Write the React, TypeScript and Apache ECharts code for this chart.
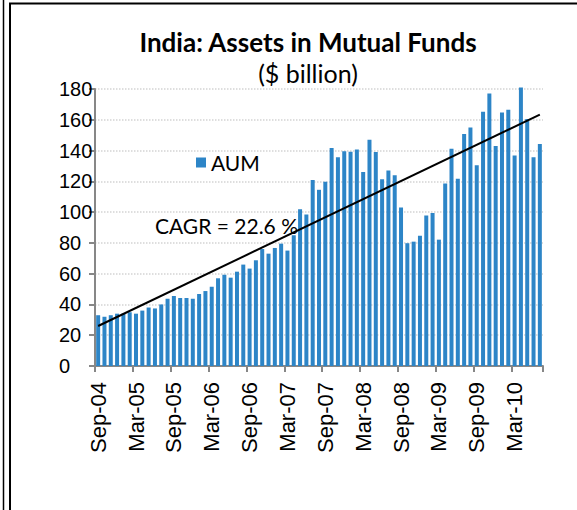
import React, { useEffect, useRef } from "react";
import * as echarts from "echarts";

const categories = [
  "Sep-04", "Oct-04", "Nov-04", "Dec-04", "Jan-05", "Feb-05",
  "Mar-05", "Apr-05", "May-05", "Jun-05", "Jul-05", "Aug-05",
  "Sep-05", "Oct-05", "Nov-05", "Dec-05", "Jan-06", "Feb-06",
  "Mar-06", "Apr-06", "May-06", "Jun-06", "Jul-06", "Aug-06",
  "Sep-06", "Oct-06", "Nov-06", "Dec-06", "Jan-07", "Feb-07",
  "Mar-07", "Apr-07", "May-07", "Jun-07", "Jul-07", "Aug-07",
  "Sep-07", "Oct-07", "Nov-07", "Dec-07", "Jan-08", "Feb-08",
  "Mar-08", "Apr-08", "May-08", "Jun-08", "Jul-08", "Aug-08",
  "Sep-08", "Oct-08", "Nov-08", "Dec-08", "Jan-09", "Feb-09",
  "Mar-09", "Apr-09", "May-09", "Jun-09", "Jul-09", "Aug-09",
  "Sep-09", "Oct-09", "Nov-09", "Dec-09", "Jan-10", "Feb-10",
  "Mar-10", "Apr-10", "May-10", "Jun-10", "Jul-10",
];

const aum = [
  33, 32, 33, 34, 34, 35,
  34, 36, 38, 37.4, 40, 43.7,
  45.5, 44.2, 44.2, 43.7, 46.8, 48.7,
  51.5, 57, 59.3, 57.4, 61.3, 65.9,
  63.3, 68.7, 76, 73, 76.7, 79.5,
  75, 85, 101.9, 98.4, 120.8, 114.5,
  119.7, 141.6, 135.7, 139.6, 139.2, 140.7,
  126, 147, 139, 121.4, 127, 124,
  103, 79.8, 80.8, 84.7, 97.8, 99.5,
  82.1, 118.6, 141.2, 121.6, 150.7, 155,
  130.5, 165.2, 177, 142.9, 164.8, 166.5,
  136.8, 181, 160.5, 135.7, 144.2,
];

// Linear trend line end points (first and last month)
const trendStart = 26;
const trendEnd = 163.3;

const yMin = 0;
const yMax = 180;
const yStep = 20;

const titleText = "India: Assets in Mutual Funds";
const subtitleText = "($ billion)";
const cagrText = "CAGR = 22.6 %";
const seriesName = "AUM";

export default function App() {
  const ref = useRef<HTMLDivElement>(null);

  useEffect(() => {
    if (!ref.current) return;
    const chart = echarts.init(ref.current, null, { renderer: "svg" });
    const trend = categories.map((_, i) =>
      i === 0 ? trendStart : i === categories.length - 1 ? trendEnd : null
    );
    const axisGray = "#878787";
    chart.setOption({
      animation: false,
      backgroundColor: "#ffffff",
      title: [
        {
          text: titleText,
          left: 303,
          top: 24,
          textAlign: "center",
          textStyle: {
            fontFamily: "Lato",
            fontWeight: "bold",
            fontSize: 26,
            color: "#000",
          },
        },
        {
          text: subtitleText,
          left: 303,
          top: 55,
          textAlign: "center",
          textStyle: {
            fontFamily: "Lato",
            fontWeight: "normal",
            fontSize: 25,
            color: "#000",
          },
        },
      ],
      legend: {
        data: [seriesName],
        left: 196,
        top: 152,
        padding: 0,
        icon: "rect",
        itemWidth: 10,
        itemHeight: 10,
        textStyle: { fontFamily: "Lato", fontSize: 21, color: "#000" },
      },
      grid: { left: 95, right: 34, top: 89, bottom: 144 },
      xAxis: {
        type: "category",
        data: categories,
        boundaryGap: true,
        axisLine: { lineStyle: { color: axisGray, width: 2 } },
        axisTick: {
          show: true,
          interval: 5,
          length: 6,
          alignWithLabel: false,
          lineStyle: { color: axisGray, width: 2 },
        },
        axisLabel: {
          interval: 5,
          rotate: 90,
          margin: 16,
          fontFamily: "Liberation Sans",
          fontSize: 22,
          color: "#000",
        },
      },
      yAxis: {
        type: "value",
        min: yMin,
        max: yMax,
        interval: yStep,
        axisLine: { show: true, lineStyle: { color: axisGray, width: 2 } },
        axisTick: { show: true, length: 6, lineStyle: { color: axisGray, width: 2 } },
        axisLabel: {
          align: "left",
          margin: 36,
          fontFamily: "Liberation Sans",
          fontSize: 20,
          color: "#000",
        },
        splitLine: {
          show: true,
          lineStyle: { type: "dotted", color: "#d4d4d4", width: 1.5 },
        },
      },
      series: [
        {
          name: seriesName,
          type: "bar",
          data: aum,
          barWidth: 4,
          clip: false,
          itemStyle: { color: "#2D85C7" },
        },
        {
          name: "Trend",
          type: "line",
          data: trend,
          connectNulls: true,
          symbol: "none",
          showSymbol: false,
          z: 5,
          lineStyle: { color: "#000", width: 2 },
        },
      ],
      graphic: [
        {
          type: "text",
          left: 155,
          top: 215,
          style: {
            text: cagrText,
            fontFamily: "Lato",
            fontSize: 21,
            fill: "#000",
          },
        },
        {
          type: "line",
          shape: { x1: 3.5, y1: 0, x2: 3.5, y2: 510 },
          style: { stroke: "#000", lineWidth: 1.5 },
        },
        {
          type: "rect",
          shape: { x: 10, y: 3.5, width: 600, height: 600 },
          style: { fill: "none", stroke: "#000", lineWidth: 2 },
        },
      ],
    });
    return () => chart.dispose();
  }, []);

  return (
    <div
      ref={ref}
      style={{
        position: "absolute",
        left: 0,
        top: 0,
        width: 577,
        height: 510,
        background: "#fff",
      }}
    />
  );
}
